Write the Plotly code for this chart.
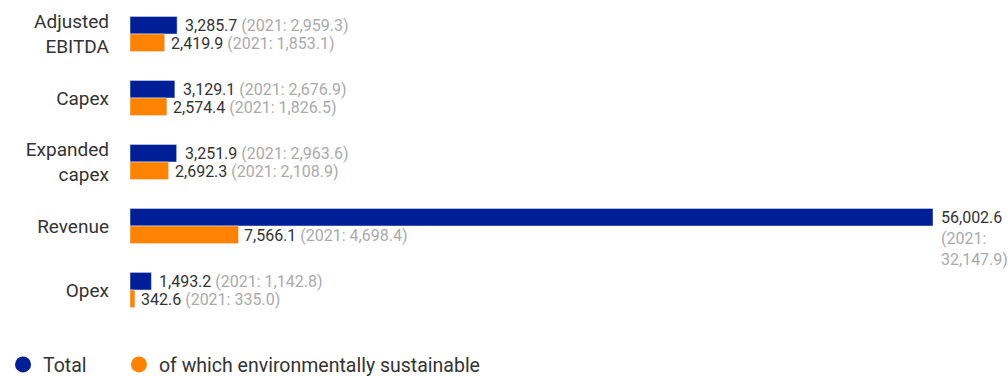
import plotly.graph_objects as go

categories = ["Adjusted<br>EBITDA", "Capex", "Expanded<br>capex", "Revenue", "Opex"]
total_2022 = [3285.7, 3129.1, 3251.9, 56002.6, 1493.2]
total_2021 = [2959.3, 2676.9, 2963.6, 32147.9, 1142.8]
green_2022 = [2419.9, 2574.4, 2692.3, 7566.1, 342.6]
green_2021 = [1853.1, 1826.5, 2108.9, 4698.4, 335.0]

BLUE = "#001E96"
ORANGE = "#FF8200"
DARK = "#333333"
GREY = "#AAAAAA"
FONT = "Roboto"
x_max = max(total_2022)


def _label(cur, prev, wrap=False):
    if wrap:
        return (f"<span style='color:{DARK}'>{cur:,.1f}</span><br>"
                f"<span style='color:{GREY}'>(2021:<br>{prev:,.1f})</span>")
    return f"<span style='color:{DARK}'>{cur:,.1f}</span> <span style='color:{GREY}'>(2021: {prev:,.1f})</span>"


fig = go.Figure()
fig.add_trace(go.Bar(y=categories, x=total_2022, orientation="h", marker_color=BLUE,
                     name="Total", showlegend=False, hoverinfo="skip"))
fig.add_trace(go.Bar(y=categories, x=green_2022, orientation="h", marker_color=ORANGE,
                     name="of which environmentally sustainable", showlegend=False, hoverinfo="skip"))

# legend with round markers, one legend box per item
for name, col, leg in [("Total", BLUE, "legend"), ("of which environmentally sustainable", ORANGE, "legend2")]:
    fig.add_trace(go.Scatter(x=[None], y=[None], mode="markers", name=name, legend=leg,
                             marker=dict(color=col, size=17, symbol="circle")))

annotations = []
for cat, t, tp, g, gp in zip(categories, total_2022, total_2021, green_2022, green_2021):
    wrap = t == x_max
    annotations.append(dict(
        x=t, y=cat, xref="x", yref="y", text=_label(t, tp, wrap), showarrow=False,
        xanchor="left", yanchor="top" if wrap else "middle", align="left",
        xshift=6, yshift=20 if wrap else 9, font=dict(family=FONT, size=16, color=DARK),
    ))
    annotations.append(dict(
        x=g, y=cat, xref="x", yref="y", text=_label(g, gp), showarrow=False,
        xanchor="left", yanchor="middle", align="left",
        xshift=4, yshift=-9, font=dict(family=FONT, size=16, color=DARK),
    ))

legend_common = dict(orientation="h", xref="container", yref="container", xanchor="left",
                     yanchor="middle", y=0.03, font=dict(family=FONT, size=19.5, color=DARK),
                     itemsizing="trace", bgcolor="rgba(0,0,0,0)")

fig.update_layout(
    width=1008,
    height=376,
    paper_bgcolor="white",
    plot_bgcolor="white",
    font=dict(family=FONT, color=DARK),
    barmode="group",
    bargap=0.45,
    bargroupgap=0,
    margin=dict(l=130, r=75, t=2, b=54),
    xaxis=dict(range=[0, x_max], visible=False, fixedrange=True, automargin=False),
    yaxis=dict(autorange="reversed", showgrid=False, showline=False, ticks="", automargin=False,
               ticklabelstandoff=20, tickfont=dict(family=FONT, size=19, color=DARK)),
    annotations=annotations,
    legend=dict(x=0.003, **legend_common),
    legend2=dict(x=0.118, **legend_common),
    showlegend=True,
)

fig.write_html("out.html", config={"displayModeBar": False},
               post_script="document.body.style.margin='0';")
